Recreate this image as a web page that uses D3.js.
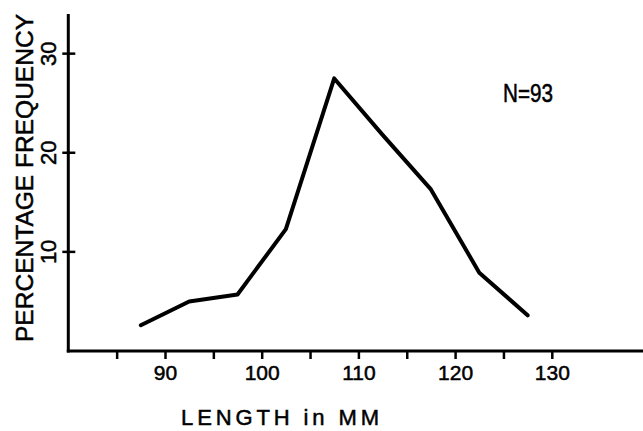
<!DOCTYPE html>
<html>
<head>
<meta charset="utf-8">
<script src="https://cdn.jsdelivr.net/npm/d3@7"></script>
<style>
  body { margin: 0; background: #fff; }
  text { font-family: "Liberation Sans", Arial, sans-serif; fill: #000; stroke: #000; stroke-width: 0.5; }
</style>
</head>
<body>
<svg id="plot"></svg>
<script>
const width = 643;
const height = 431;

// class midpoints (mm) and percentage frequency
const lengthMid = [87.5, 92.5, 97.5, 102.5, 107.5, 112.5, 117.5, 122.5, 127.5];
const percent   = [2.6, 5.0, 5.7, 12.3, 27.5, 21.8, 16.3, 7.9, 3.6];

const xTicks = [85, 90, 95, 100, 105, 110, 115, 120, 125, 130];
const xTickLabels = [90, 100, 110, 120, 130];
const yTicks = [10, 20, 30];

const sampleText = 'N=93';
const xTitle = 'LENGTH in MM';
const yTitle = 'PERCENTAGE FREQUENCY';

let svg, sx, sy;

function main(){
  svg = d3.select('svg#plot')
  .attr('width', width)
  .attr('height', height);

  sx = d3.scaleLinear().domain([80, 140]).range([68.3, 648.5]);
  sy = d3.scaleLinear().domain([0, 34]).range([351, 14]);

  drawAxes();
  drawLine();
  drawText();
}

function drawAxes(){
  // x axis
  const xAxis = d3.axisBottom(sx)
  .tickValues(xTicks)
  .tickSize(8)
  .tickSizeOuter(0)
  .tickPadding(6)
  .tickFormat(d => xTickLabels.includes(d) ? d : '');

  const gx = svg.append('g')
  .attr('transform', `translate(0,${sy(0)})`)
  .call(xAxis);
  gx.select('.domain').remove();
  gx.selectAll('line').attr('stroke', '#000').attr('stroke-width', 2.5);
  gx.selectAll('text').attr('font-size', 21).attr('fill', '#000');

  svg.append('line')
  .attr('x1', sx(80) - 1.5).attr('x2', width)
  .attr('y1', sy(0)).attr('y2', sy(0))
  .attr('stroke', '#000').attr('stroke-width', 3);

  // y axis
  svg.append('line')
  .attr('x1', sx(80)).attr('x2', sx(80))
  .attr('y1', sy(0) + 1.5).attr('y2', sy(34))
  .attr('stroke', '#000').attr('stroke-width', 3);

  svg.selectAll('.ytick')
  .data(yTicks)
  .enter()
  .append('line')
  .attr('class', 'ytick')
  .attr('x1', sx(80) - 6).attr('x2', sx(80) + 7)
  .attr('y1', d => sy(d)).attr('y2', d => sy(d))
  .attr('stroke', '#000').attr('stroke-width', 2.5);

  svg.selectAll('.ylabel')
  .data(yTicks)
  .enter()
  .append('text')
  .attr('class', 'ylabel')
  .attr('transform', d => `translate(56,${sy(d)}) rotate(-90)`)
  .attr('text-anchor', 'middle')
  .attr('font-size', 22)
  .text(d => d);
}

function drawLine(){
  const line = d3.line()
  .x((d, i) => sx(lengthMid[i]))
  .y(d => sy(d));

  svg.append('path')
  .datum(percent)
  .attr('d', line)
  .attr('fill', 'none')
  .attr('stroke', '#000')
  .attr('stroke-width', 4)
  .attr('stroke-linejoin', 'round')
  .attr('stroke-linecap', 'round');
}

function drawText(){
  svg.append('text')
  .attr('transform', 'translate(33,178) rotate(-90)')
  .attr('text-anchor', 'middle')
  .attr('font-size', 24)
  .attr('textLength', 328)
  .attr('lengthAdjust', 'spacingAndGlyphs')
  .text(yTitle);

  svg.append('text')
  .attr('x', 181)
  .attr('y', 425)
  .attr('font-size', 22)
  .attr('textLength', 198)
  .attr('lengthAdjust', 'spacing')
  .text(xTitle);

  svg.append('text')
  .attr('x', 503)
  .attr('y', 102)
  .attr('font-size', 25)
  .attr('textLength', 50)
  .attr('lengthAdjust', 'spacingAndGlyphs')
  .text(sampleText);
}

document.addEventListener('DOMContentLoaded', main);
</script>
</body>
</html>
